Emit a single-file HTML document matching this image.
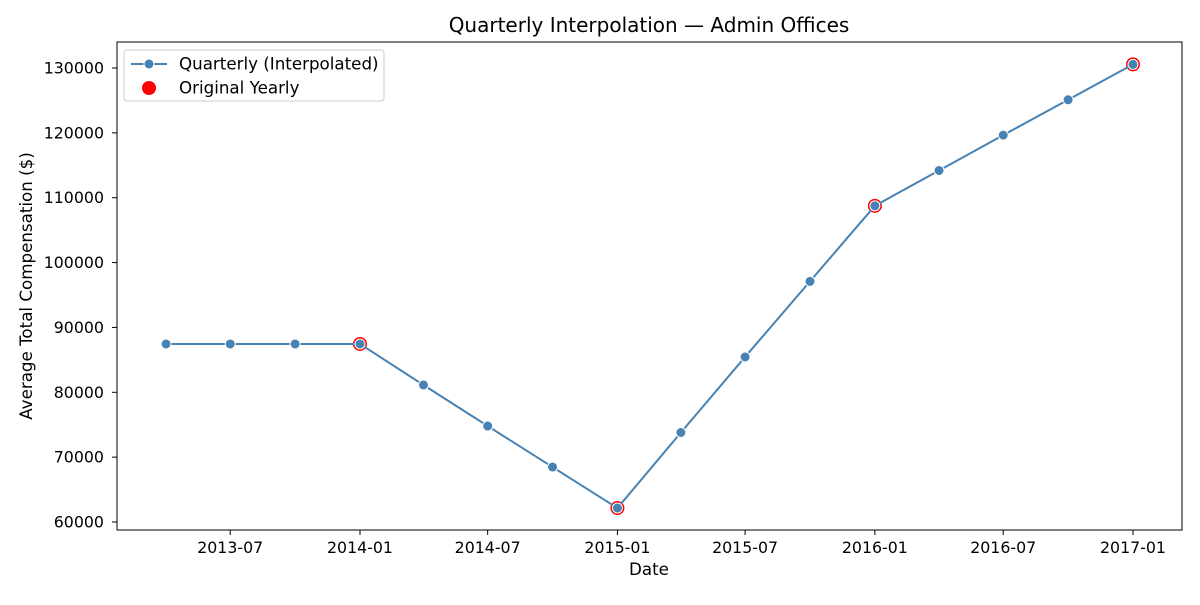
<!DOCTYPE html>
<html><head><meta charset="utf-8"><style>
body{margin:0;background:#fff;}
text{font-family:"DejaVu Sans","Liberation Sans",sans-serif;fill:#000;}
</style></head><body>
<svg id="c" width="1200" height="600" xmlns="http://www.w3.org/2000/svg"></svg>
<script>
const dates=["2013-04-01","2013-07-01","2013-10-01","2014-01-01","2014-04-01","2014-07-01","2014-10-01","2015-01-01","2015-04-01","2015-07-01","2015-10-01","2016-01-01","2016-04-01","2016-07-01","2016-10-01","2017-01-01"];
const quarterly=[87450,87450,87450,87450,81125,74800,68475,62150,73800,85450,97100,108750,114200,119650,125100,130550];
const yearlyDates=["2014-01-01","2015-01-01","2016-01-01","2017-01-01"];
const yearly=[87450,62150,108750,130550];
const xTicks=["2013-07","2014-01","2014-07","2015-01","2015-07","2016-01","2016-07","2017-01"];
const yTicks=[60000,70000,80000,90000,100000,110000,120000,130000];

const L=117,R=1182,T=42,B=530;
const ymin=58767,ymax=134009;
const d0=Date.parse("2014-01-01"),pxPerDay=773/1096;
const X=d=>360+(Date.parse(d)-d0)/86400000*pxPerDay;
const Y=v=>B-(v-ymin)/(ymax-ymin)*(B-T);
const svg=document.getElementById('c');
const NS="http://www.w3.org/2000/svg";
function mk(tag,attrs,parent){const e=document.createElementNS(NS,tag);for(const k in attrs)e.setAttribute(k,attrs[k]);(parent||svg).appendChild(e);return e;}

let t=mk('text',{x:649,y:32,'text-anchor':'middle','font-size':20});t.textContent="Quarterly Interpolation — Admin Offices";



yTicks.forEach(v=>{const y=Y(v);
 mk('line',{x1:L-5,x2:L,y1:y,y2:y,stroke:'#000'});
 const tx=mk('text',{x:L-13,y:y+5.5,'text-anchor':'end','font-size':15.8});tx.textContent=v;
 
 
});
xTicks.forEach(s=>{const x=X(s+"-01");
 mk('line',{x1:x,x2:x,y1:B,y2:B+5,stroke:'#000'});
 const tx=mk('text',{x:x,y:B+23,'text-anchor':'middle','font-size':15.8});tx.textContent=s;
 
 
});
t=mk('text',{x:649,y:575,'text-anchor':'middle','font-size':16.7});t.textContent="Date";


t=mk('text',{x:0,y:0,'text-anchor':'middle','font-size':16.7,transform:'translate(32,286) rotate(-90)'});t.textContent="Average Total Compensation ($)";



yearly.forEach((v,i)=>{const c=mk('circle',{cx:X(yearlyDates[i]),cy:Y(v),r:7,fill:'red'});
 
 
});
const pl=mk('polyline',{points:quarterly.map((v,i)=>X(dates[i])+","+Y(v)).join(" "),fill:'none',stroke:'#4682b4','stroke-width':2});


quarterly.forEach((v,i)=>{const c=mk('circle',{cx:X(dates[i]),cy:Y(v),r:5,fill:'#4682b4',stroke:'#fff','stroke-width':1});
 
 
});

const frame=mk('rect',{x:L,y:T,width:R-L,height:B-T,fill:'none',stroke:'#000','stroke-width':1});



const lg=mk('g',{});


mk('rect',{x:124,y:50,width:260,height:51,rx:3,fill:'#fff',stroke:'#ccc'},lg);
mk('line',{x1:131,x2:167,y1:64,y2:64,stroke:'#4682b4','stroke-width':2},lg);
mk('circle',{cx:149,cy:64,r:5,fill:'#4682b4',stroke:'#fff'},lg);
t=mk('text',{x:179,y:69.5,'font-size':16.7},lg);t.textContent="Quarterly (Interpolated)";


mk('circle',{cx:149,cy:88,r:7,fill:'red'},lg);
t=mk('text',{x:179,y:93.5,'font-size':16.7},lg);t.textContent="Original Yearly";


</script>
</body></html>
